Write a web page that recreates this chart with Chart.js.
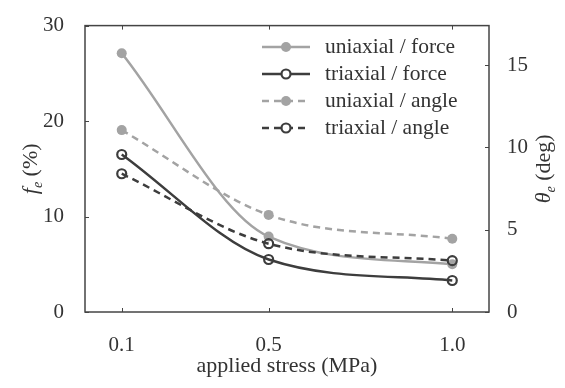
<!DOCTYPE html>
<html>
<head>
<meta charset="utf-8">
<script src="https://cdn.jsdelivr.net/npm/chart.js@4/dist/chart.umd.min.js"></script>
<style>
html,body{margin:0;padding:0;background:#fff;}
#wrap{width:565px;height:388px;position:relative;}
</style>
</head>
<body>
<div id="wrap"><canvas id="c" width="565" height="388"></canvas></div>
<script>
// ---- data ----
const stressValues = [0.1, 0.5, 1.0];
const uniaxialForce = [27.1, 7.9, 5.0];
const triaxialForce = [16.5, 5.5, 3.3];
const uniaxialAngle = [11.05, 5.9, 4.45];
const triaxialAngle = [8.4, 4.15, 3.12];
const xTickValues = [0.1, 0.5, 1.0];
const leftTickValues = [0, 10, 20, 30];
const rightTickValues = [0, 5, 10, 15];
const seriesNames = ['uniaxial / force', 'triaxial / force', 'uniaxial / angle', 'triaxial / angle'];

const GRAY = '#a3a3a3';
const DARK = '#3d3d3d';
const TXT = '#333333';
const SERIF = "'Liberation Serif', 'DejaVu Serif', serif";

function pts(arr){ return stressValues.map((x,i)=>({x:x, y:arr[i]})); }

const styles = [
  {color:GRAY, dash:[], filled:true, axis:'y', data:uniaxialForce, order:2},
  {color:DARK, dash:[], filled:false, axis:'y', data:triaxialForce, order:0},
  {color:GRAY, dash:[7,5], filled:true, axis:'y2', data:uniaxialAngle, order:3},
  {color:DARK, dash:[7,5], filled:false, axis:'y2', data:triaxialAngle, order:1}
];

const datasets = styles.map((s,i)=>({
  label: seriesNames[i],
  data: pts(s.data),
  yAxisID: s.axis,
  borderColor: s.color,
  backgroundColor: s.filled ? s.color : 'rgba(0,0,0,0)',
  borderWidth: 2.5,
  borderDash: s.dash,
  pointRadius: s.filled ? 5 : 4.5,
  pointBorderWidth: s.filled ? 0 : 2.2,
  pointBorderColor: s.color,
  pointBackgroundColor: s.filled ? s.color : 'rgba(0,0,0,0)',
  cubicInterpolationMode: 'monotone',
  order: s.order
}));

const framePlugin = {
  id: 'frame',
  afterDraw(chart){
    const ctx = chart.ctx, a = chart.chartArea;
    const sx = chart.scales.x, sy = chart.scales.y, sy2 = chart.scales.y2;
    ctx.save();
    ctx.strokeStyle = '#444';
    ctx.lineWidth = 1.5;
    ctx.setLineDash([]);
    ctx.strokeRect(a.left, a.top, a.right - a.left, a.bottom - a.top);
    ctx.lineWidth = 1;
    const tl = 4;
    ctx.beginPath();
    xTickValues.forEach(v=>{
      const px = Math.round(sx.getPixelForValue(v))+0.5;
      ctx.moveTo(px, a.bottom); ctx.lineTo(px, a.bottom - tl);
      ctx.moveTo(px, a.top); ctx.lineTo(px, a.top + tl);
    });
    leftTickValues.forEach(v=>{
      const py = Math.round(sy.getPixelForValue(v))+0.5;
      ctx.moveTo(a.left, py); ctx.lineTo(a.left + tl, py);
    });
    rightTickValues.forEach(v=>{
      const py = Math.round(sy2.getPixelForValue(v))+0.5;
      ctx.moveTo(a.right, py); ctx.lineTo(a.right - tl, py);
    });
    ctx.stroke();

    // axis titles (rotated, with italic symbol + subscript)
    function vtitle(cx, cy, sym, rest){
      ctx.save();
      ctx.translate(cx, cy);
      ctx.rotate(-Math.PI/2);
      ctx.fillStyle = TXT;
      ctx.textBaseline = 'alphabetic';
      ctx.textAlign = 'left';
      const fMain = 'italic 22px ' + SERIF;
      const fSub = 'italic 14px ' + SERIF;
      const fRest = '22px ' + SERIF;
      ctx.font = fMain; const w1 = ctx.measureText(sym).width;
      ctx.font = fSub; const w2 = ctx.measureText('e').width;
      ctx.font = fRest; const w3 = ctx.measureText(rest).width;
      let x = -(w1 + w2 + w3)/2;
      const base = 7;
      ctx.font = fMain; ctx.fillText(sym, x, base); x += w1;
      ctx.font = fSub; ctx.fillText('e', x, base + 5); x += w2;
      ctx.font = fRest; ctx.fillText(rest, x, base);
      ctx.restore();
    }
    const cy = (a.top + a.bottom)/2;
    vtitle(30, cy, 'f', ' (%)');
    vtitle(543, cy, 'θ', ' (deg)');

    // legend
    const lx0 = 262, lx1 = 310, tx = 325, ly0 = 47, dy = 27;
    styles.forEach((s,i)=>{
      const y = ly0 + i*dy;
      ctx.strokeStyle = s.color;
      ctx.lineWidth = 2.5;
      ctx.setLineDash(s.dash);
      ctx.beginPath(); ctx.moveTo(lx0, y); ctx.lineTo(lx1, y); ctx.stroke();
      ctx.setLineDash([]);
      ctx.beginPath(); ctx.arc((lx0+lx1)/2, y, s.filled ? 5 : 4.5, 0, Math.PI*2);
      if (s.filled){ ctx.fillStyle = s.color; ctx.fill(); }
      else { ctx.fillStyle = '#fff'; ctx.fill(); ctx.lineWidth = 2.2; ctx.strokeStyle = s.color; ctx.stroke(); }
      ctx.fillStyle = TXT;
      ctx.font = '21.5px ' + SERIF;
      ctx.textBaseline = 'middle';
      ctx.textAlign = 'left';
      ctx.fillText(seriesNames[i], tx, y);
    });
    ctx.restore();
  }
};

new Chart(document.getElementById('c'), {
  type: 'line',
  data: { datasets: datasets },
  options: {
    responsive: false,
    animation: false,
    layout: { padding: { top: 8, left: 0, right: 0, bottom: 0 } },
    plugins: { legend: { display: false }, tooltip: { enabled: false } },
    scales: {
      x: {
        type: 'linear', min: 0, max: 1.1,
        grid: { display: false }, border: { display: false },
        afterBuildTicks(s){ s.ticks = xTickValues.map(v=>({value:v})); },
        afterFit(s){ s.height = 76; },
        ticks: { color: TXT, font: { family: SERIF, size: 21 }, padding: 13,
          maxRotation: 0, autoSkip: false, callback: v => Number(v).toFixed(1) },
        title: { display: true, text: 'applied stress (MPa)', color: TXT,
          font: { family: SERIF, size: 22 }, padding: { top: 0, bottom: 9 } }
      },
      y: {
        type: 'linear', position: 'left', min: 0, max: 30,
        grid: { display: false }, border: { display: false },
        afterBuildTicks(s){ s.ticks = leftTickValues.map(v=>({value:v})); },
        afterFit(s){ s.width = 85; },
        ticks: { color: TXT, font: { family: SERIF, size: 21 }, padding: 13 }
      },
      y2: {
        type: 'linear', position: 'right', min: 0, max: 17.4,
        grid: { display: false }, border: { display: false },
        afterBuildTicks(s){ s.ticks = rightTickValues.map(v=>({value:v})); },
        afterFit(s){ s.width = 76; },
        ticks: { color: TXT, font: { family: SERIF, size: 21 }, padding: 10 }
      }
    }
  },
  plugins: [framePlugin]
});
</script>
</body>
</html>
